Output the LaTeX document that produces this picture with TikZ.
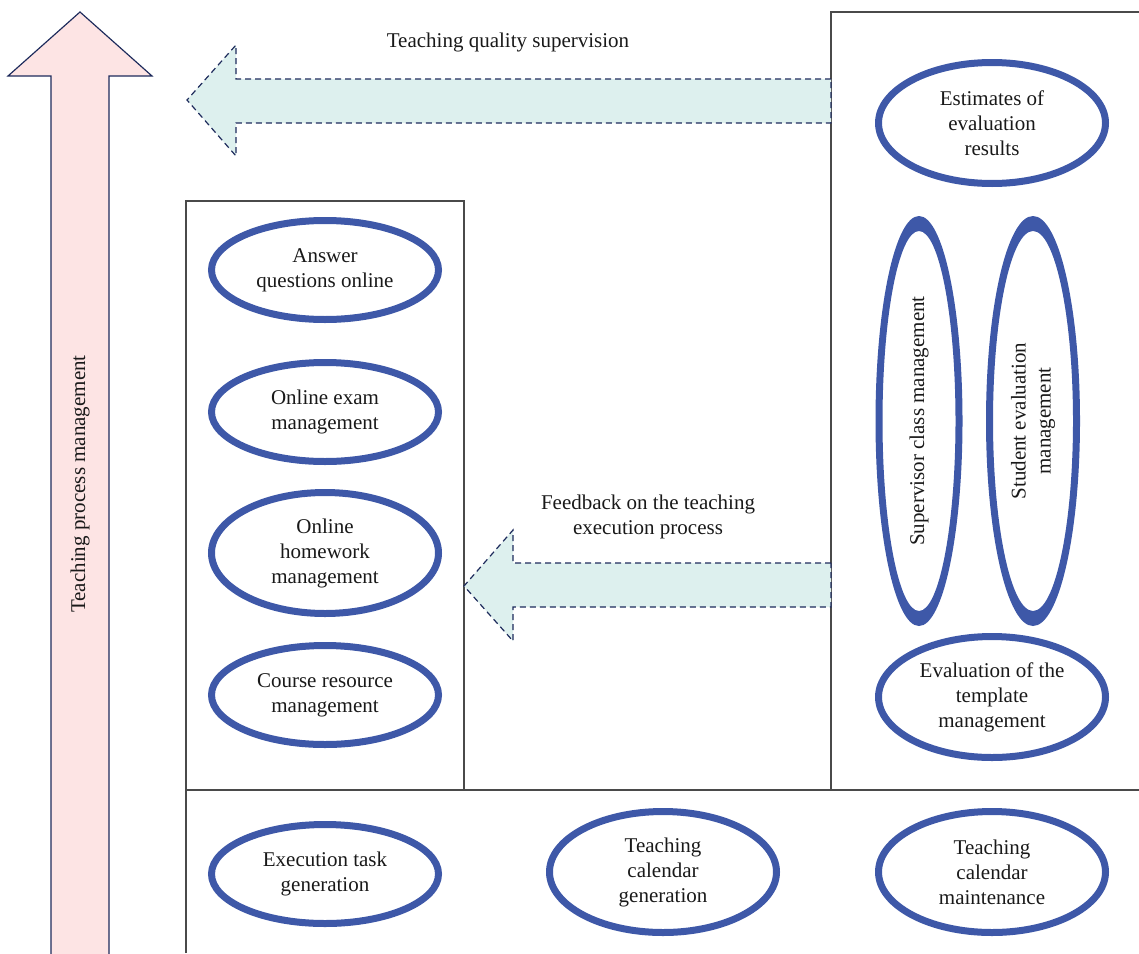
\documentclass[tikz,border=0pt]{standalone}
\usepackage{fontspec}
\setmainfont{Liberation Serif}
\usetikzlibrary{shapes.geometric}
\definecolor{ringblue}{HTML}{3E58A8}
\definecolor{navy}{HTML}{1E2B5C}
\definecolor{pinkfill}{HTML}{FDE4E4}
\definecolor{tealfill}{HTML}{DDF0EE}
\definecolor{framegray}{HTML}{4A4A4A}
\begin{document}
\begin{tikzpicture}[x=1pt,y=-1pt,
  every node/.style={font=\fontsize{21}{25}\selectfont, align=center, inner sep=0pt, text=black!90},
  oval/.style={ellipse, draw=ringblue, line width=7pt, minimum width=227pt, minimum height=99pt},
  tall/.style={oval, minimum height=121pt},
  frame/.style={draw=framegray, line width=1.4pt},
  bigarrow/.style={draw=navy, line width=1.2pt, line join=miter},
  flow/.style={draw=navy, line width=1.2pt, dash pattern=on 6pt off 4pt, fill=tealfill, line join=miter}]
\useasboundingbox (0,0) rectangle (1139,953);

% frames
\draw[frame] (186,201) rectangle (464,790);
\draw[frame] (831,790) -- (831,12) -- (1140,12);
\draw[frame] (186,953) -- (186,790) -- (1140,790);

% vertical process arrow
\begin{scope}
\clip (0,0) rectangle (1139,953);
\filldraw[bigarrow, fill=pinkfill] (80,12) -- (152,76) -- (109,76) -- (109,960) -- (51,960) -- (51,76) -- (8,76) -- cycle;
\end{scope}
\node[rotate=90] (procmgmt) at (80,484) {Teaching process management};

% dashed flow arrows
\filldraw[flow] (831,79) -- (236,79) -- (236,45) -- (187,100) -- (236,156) -- (236,123) -- (831,123) -- cycle;
\node (quality) at (508,42) {Teaching quality supervision};
\filldraw[flow] (831,563) -- (513,563) -- (513,530) -- (464,586) -- (513,641) -- (513,607) -- (831,607) -- cycle;
\node (feedback) at (648,517) {Feedback on the teaching\\execution process};

% execution column
\node[oval] (answer) at (325,270) {Answer\\questions online};
\node[oval] (exam) at (325,412) {Online exam\\management};
\node[tall] (homework) at (325,553) {Online\\homework\\management};
\node[oval] (resource) at (325,695) {Course resource\\management};

% evaluation column
\node[tall] (estimates) at (992,123) {Estimates of\\evaluation\\results};
\node[tall] (template) at (992,697) {Evaluation of the\\template\\management};
\node[ellipse, minimum width=87pt, minimum height=410pt] (supervisor) at (919,421) {};
\fill[ringblue, even odd rule] (supervisor.center) ellipse [x radius=43.5, y radius=205]
  (supervisor.center) ellipse [x radius=36.5, y radius=190];
\node[rotate=90] at (supervisor.center) {Supervisor class management};
\node[ellipse, minimum width=94pt, minimum height=410pt] (student) at (1033,421) {};
\fill[ringblue, even odd rule] (student.center) ellipse [x radius=47, y radius=205]
  (student.center) ellipse [x radius=40, y radius=190];
\node[rotate=90] at (student.center) {Student evaluation\\management};

% calendar row
\node[oval] (task) at (325,874) {Execution task\\generation};
\node[tall] (calgen) at (663,872) {Teaching\\calendar\\generation};
\node[tall] (calmaint) at (992,872) {Teaching\\calendar\\maintenance};
\end{tikzpicture}
\end{document}
